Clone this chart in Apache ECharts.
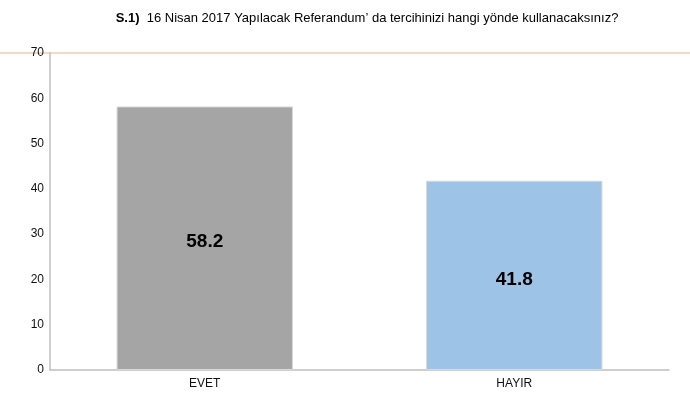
<!DOCTYPE html>
<html><head><meta charset="utf-8">
<script src="https://cdn.jsdelivr.net/npm/echarts@6/dist/echarts.min.js"></script>
<style>html,body{margin:0;padding:0;background:#fff}#c{width:690px;height:406px}</style>
</head><body><div id="c"></div>
<script>
const categories = ['EVET', 'HAYIR'];
const values = [58.2, 41.8];
const barColors = ['#a5a5a5', '#9dc3e6'];
const yTicks = { min: 0, max: 70, interval: 10 };

const chart = echarts.init(document.getElementById('c'));
chart.setOption({
  animation: false,
  title: {
    text: '{b|S.1)}  16 Nisan 2017 Yapılacak Referandum’ da tercihinizi hangi yönde kullanacaksınız?',
    left: 362, top: 7, textAlign: 'center',
    textStyle: {
      fontFamily: 'Liberation Sans Narrow, Liberation Sans', fontSize: 13, fontWeight: 'normal', color: '#000',
      rich: { b: { fontFamily: 'Liberation Sans Narrow, Liberation Sans', fontSize: 13, fontWeight: 'bold', color: '#000' } }
    }
  },
  graphic: [{
    type: 'line', shape: { x1: 0, y1: 53, x2: 690, y2: 53 },
    style: { stroke: '#e8b58a', lineWidth: 1.2 }, z: 0
  }],
  grid: { left: 50, right: 21, top: 53, bottom: 36 },
  xAxis: {
    type: 'category', data: categories,
    axisLine: { lineStyle: { color: '#bfbfbf', width: 1.5 } },
    axisTick: { show: false },
    axisLabel: { color: '#111', fontSize: 12, fontFamily: 'Liberation Sans Narrow, Liberation Sans', margin: 8 }
  },
  yAxis: {
    type: 'value', min: yTicks.min, max: yTicks.max, interval: yTicks.interval,
    axisLine: { show: true, lineStyle: { color: '#bfbfbf', width: 1.5 } },
    axisTick: { show: false },
    splitLine: { show: false },
    axisLabel: { color: '#111', fontSize: 12, fontFamily: 'Liberation Sans', margin: 6, padding: [4, 0, 0, 0] }
  },
  series: [{
    type: 'bar', barWidth: '57%',
    data: values.map((v, i) => ({ value: v, itemStyle: { color: barColors[i] } })),
    itemStyle: { borderColor: '#d9d9d9', borderWidth: 1 },
    label: {
      show: true, position: 'inside', offset: [0, 4], color: '#000', fontSize: 19, fontWeight: 'bold',
      fontFamily: 'Liberation Sans', formatter: p => p.value.toFixed(1)
    }
  }]
});
</script></body></html>
